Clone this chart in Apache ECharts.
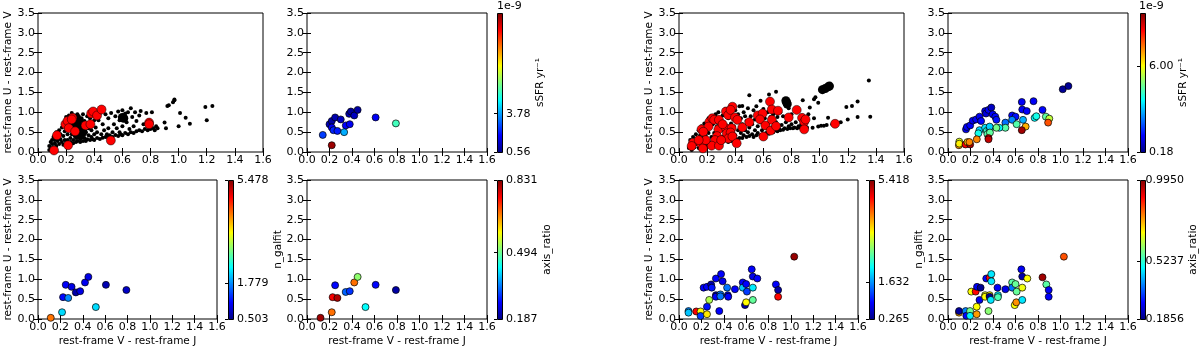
<!DOCTYPE html>
<html>
<head>
<meta charset="utf-8">
<script src="https://cdn.jsdelivr.net/npm/echarts@6.0.0/dist/echarts.min.js"></script>
<style>
  html, body { margin: 0; background: #fff; }
  #chart { width: 1200px; height: 352px; }
</style>
</head>
<body>
<div id="chart"></div>
<script>
/* ---------- data ---------- */
// left sample: all galaxies (small black), bigger black, selected (red)
const BG_LEFT = [
  [0.08,0.05],[0.08,0.15],[0.09,0.25],[0.09,0.1],[0.1,0.2],[0.1,0.3],[0.11,0.12],[0.11,0.38],[0.12,0.22],[0.12,0.3],
  [0.13,0.15],[0.13,0.5],[0.14,0.28],[0.14,0.38],[0.15,0.2],[0.15,0.55],[0.16,0.32],[0.16,0.45],[0.17,0.62],[0.17,0.25],
  [0.18,0.18],[0.18,0.4],[0.19,0.52],[0.19,0.3],[0.2,0.22],[0.2,0.62],[0.2,0.88],[0.21,0.45],[0.21,0.3],[0.22,0.92],[0.22,0.2],
  [0.23,0.35],[0.23,0.25],[0.24,0.45],[0.24,0.98],[0.25,0.22],[0.25,0.3],[0.26,0.4],[0.26,0.92],[0.27,0.25],[0.27,0.35],
  [0.28,0.28],[0.28,0.95],[0.29,0.4],[0.29,0.9],[0.3,0.25],[0.3,0.33],[0.31,0.45],[0.31,0.85],[0.32,0.28],[0.32,0.6],[0.32,0.95],
  [0.33,0.35],[0.33,0.78],[0.34,0.28],[0.34,0.5],[0.35,0.9],[0.35,0.32],[0.36,0.42],[0.36,0.6],[0.37,0.3],[0.37,0.85],
  [0.38,0.38],[0.38,0.55],[0.39,0.32],[0.4,0.45],[0.4,0.8],[0.4,0.3],
  [0.41,0.62],[0.42,0.35],[0.42,0.5],[0.43,0.8],[0.44,0.33],[0.44,0.98],[0.45,0.45],[0.46,0.7],[0.46,0.36],[0.47,0.55],
  [0.48,0.38],[0.48,0.95],[0.49,0.45],[0.5,0.6],[0.5,0.36],[0.5,0.85],
  [0.51,0.42],[0.52,0.98],[0.53,0.5],[0.53,0.38],[0.54,0.7],[0.55,0.43],[0.55,0.9],[0.56,0.6],[0.57,0.4],[0.57,1.02],
  [0.58,0.5],[0.58,0.8],[0.59,0.44],[0.6,0.65],[0.6,1.05],[0.6,0.42],
  [0.62,0.48],[0.62,0.97],[0.63,0.75],[0.64,0.45],[0.64,1.0],[0.65,0.58],[0.66,1.1],[0.66,0.5],[0.67,0.88],[0.68,0.48],
  [0.68,0.65],[0.69,1.0],[0.7,0.52],[0.7,0.78],
  [0.72,0.55],[0.72,0.92],[0.73,1.03],[0.74,0.52],[0.75,0.7],[0.76,0.58],[0.77,0.98],[0.78,0.55],[0.79,0.62],[0.8,0.58],
  [0.81,1.0],[0.82,0.6],[0.83,0.55],[0.84,0.65],[0.85,0.6],
  [0.9,0.74],[0.91,0.6],[0.92,1.16],[0.93,1.18],[0.96,1.25],[0.97,1.3],[0.97,1.32],[1.0,0.65],[1.01,0.98],[1.05,0.86],
  [1.08,0.71],[1.19,1.13],[1.2,0.8],[1.24,1.16]
];
const BIG_LEFT = [
  [0.25,0.8],[0.27,0.85],[0.29,0.78],[0.31,0.72],[0.28,0.65],[0.3,0.58],[0.32,0.5],[0.28,0.5],[0.3,0.42],[0.26,0.7],
  [0.6,0.87],[0.61,0.85]
];
const RED_LEFT = [
  [0.114,0.04],[0.135,0.42],[0.214,0.17],[0.195,0.70],[0.21,0.78],[0.219,0.60],[0.245,0.86],[0.24,0.82],[0.264,0.52],
  [0.338,0.67],[0.373,0.70],[0.378,0.97],[0.392,1.02],[0.42,0.92],[0.452,1.07],[0.518,0.29],[0.79,0.74],[0.79,0.70]
];
// [V-J, U-V, colour value]
const SSFR_LEFT = [
  [0.14,0.43,2.7],[0.20,0.70,1.2],[0.22,0.78,1.0],[0.22,0.62,2.0],[0.235,0.55,2.4],[0.25,0.87,1.1],[0.22,0.17,11.9],
  [0.27,0.53,2.3],[0.30,0.82,1.3],[0.33,0.50,4.0],[0.345,0.67,2.0],[0.38,0.70,1.9],[0.375,0.96,1.1],[0.39,1.02,0.9],
  [0.42,0.92,1.3],[0.45,1.06,1.0],[0.61,0.87,1.9],[0.79,0.72,5.7]
];
const NGALFIT_LEFT = [
  [0.114,0.03,4.3],[0.215,0.17,2.2],[0.224,0.55,1.15],[0.248,0.86,1.1],[0.27,0.53,1.8],[0.30,0.81,1.0],[0.338,0.67,0.7],
  [0.377,0.70,1.0],[0.42,0.92,1.05],[0.45,1.06,1.0],[0.517,0.30,2.2],[0.607,0.86,0.75],[0.79,0.73,0.85]
];
const AXRATIO_LEFT = [
  [0.12,0.03,0.81],[0.22,0.17,0.68],[0.228,0.55,0.755],[0.27,0.53,0.80],[0.25,0.85,0.27],[0.344,0.68,0.33],[0.38,0.70,0.30],
  [0.42,0.92,0.68],[0.45,1.06,0.52],[0.52,0.30,0.43],[0.61,0.86,0.27],[0.79,0.73,0.21]
];

// right sample
const BG_RIGHT = [
  [0.07,0.1],[0.08,0.2],[0.08,0.3],[0.09,0.05],[0.1,0.38],[0.11,0.12],[0.11,0.28],[0.12,0.45],[0.13,0.2],[0.13,0.35],
  [0.14,0.1],[0.14,0.55],[0.15,0.3],[0.15,0.42],
  [0.16,0.15],[0.16,0.65],[0.17,0.35],[0.17,0.5],[0.18,0.22],[0.18,0.72],[0.19,0.4],[0.19,0.58],[0.2,0.15],[0.2,0.3],
  [0.21,0.48],[0.21,0.85],[0.22,0.22],[0.22,0.62],[0.23,0.38],[0.23,0.9],[0.24,0.25],[0.24,0.7],[0.25,0.2],[0.25,0.48],
  [0.26,0.35],[0.26,0.95],[0.27,0.25],[0.27,0.65],[0.28,0.45],[0.28,1.0],[0.29,0.3],[0.29,0.7],[0.3,0.22],[0.3,0.55],
  [0.31,0.38],[0.31,0.92],[0.32,0.28],[0.32,0.75],[0.33,0.45],[0.33,1.08],[0.34,0.3],[0.34,0.65],[0.35,0.25],[0.35,0.85],
  [0.36,0.4],[0.36,1.0],[0.37,0.28],[0.37,0.72],[0.38,0.5],[0.38,0.92],[0.39,0.3],[0.39,0.65],[0.4,0.42],[0.4,1.05],
  [0.41,0.32],[0.41,0.75],[0.42,0.55],[0.42,0.95],[0.43,0.35],[0.43,1.15],[0.44,0.48],[0.44,0.85],[0.45,0.35],[0.45,0.7],
  [0.46,0.42],[0.46,1.0],[0.47,0.55],[0.47,0.9],[0.48,0.38],[0.48,0.78],[0.49,0.5],[0.49,1.1],[0.5,0.4],[0.5,0.62],
  [0.5,1.43],[0.51,0.9],[0.52,0.45],[0.52,0.7],[0.53,0.38],[0.53,1.05],[0.54,0.55],[0.54,0.82],[0.55,0.42],[0.55,1.15],
  [0.56,0.65],[0.56,0.48],[0.57,0.95],[0.58,0.42],[0.58,1.29],[0.58,0.75],[0.59,0.55],[0.6,0.45],[0.6,1.08],[0.61,0.62],
  [0.61,0.85],[0.62,0.48],[0.63,0.7],[0.63,1.0],[0.64,0.46],[0.64,0.58],[0.65,0.88],[0.65,0.5],
  [0.66,0.62],[0.67,0.5],[0.67,0.95],[0.68,0.55],[0.69,0.75],[0.69,1.52],[0.7,0.52],[0.7,0.88],[0.71,0.6],[0.72,0.55],
  [0.72,1.0],[0.73,0.68],[0.74,0.56],[0.74,0.9],[0.75,0.6],[0.76,0.75],[0.77,0.58],[0.78,1.1],[0.78,0.65],[0.79,0.6],
  [0.8,0.7],[0.8,0.95],
  [0.81,0.6],[0.82,0.62],[0.83,0.75],[0.84,0.6],[0.85,0.65],[0.86,0.62],[0.87,0.7],[0.88,1.3],[0.88,0.63],[0.9,0.65],
  [0.91,0.62],[0.92,0.95],[0.93,1.12],[0.95,0.61],[0.96,1.33],[0.96,0.85],[0.97,1.38],
  [0.99,1.24],[0.99,0.64],[1.01,0.66],[1.03,0.66],[1.05,0.68],[1.06,0.86],[1.09,0.7],[1.15,0.75],[1.2,0.82],[1.19,1.13],
  [1.23,1.16],[1.27,1.27],[1.27,0.88],[1.35,1.8],[1.36,0.89],[0.45,1.16],[0.64,1.45]
];
const BIG_RIGHT = [
  [0.76,1.29],[0.765,1.25],[0.77,1.21],[1.02,1.57],[1.04,1.6],[1.06,1.64],[1.07,1.66]
];
const RED_RIGHT = [
  [0.10,0.235],[0.09,0.15],[0.16,0.57],[0.154,0.22],[0.17,0.09],[0.216,0.76],[0.237,0.85],[0.25,0.81],[0.284,0.81],
  [0.28,0.57],[0.27,0.40],[0.256,0.30],[0.232,0.16],[0.284,0.16],[0.334,1.02],[0.35,0.93],[0.38,1.14],[0.367,1.06],
  [0.398,0.87],[0.415,0.81],[0.334,0.60],[0.374,0.60],[0.34,0.47],[0.367,0.49],[0.35,0.34],[0.38,0.39],[0.41,0.22],
  [0.45,0.62],[0.50,0.75],[0.56,0.92],[0.595,0.97],[0.576,0.82],[0.60,0.39],[0.614,0.67],[0.647,1.27],[0.66,1.07],
  [0.66,0.81],[0.704,1.04],[0.652,0.54],[0.69,0.65],[0.78,0.87],[0.837,1.06],[0.875,0.86],[0.89,0.76],[0.89,0.57],
  [0.90,0.82],[1.11,0.71],[0.21,0.64],[0.173,0.51],[0.19,0.3],[0.31,0.7],[0.3,0.3],[0.14,0.3]
];
const SSFR_RIGHT = [
  [1.02,1.58,0.4],[1.07,1.66,0.4],[0.76,1.28,1.3],[0.656,1.26,1.3],[0.66,1.07,1.3],[0.70,1.03,1.3],[0.84,1.06,1.4],
  [0.57,0.92,1.4],[0.60,0.89,1.5],[0.57,0.81,2.6],[0.667,0.81,3.0],[0.77,0.86,3.7],[0.785,0.90,3.9],[0.87,0.89,4.6],
  [0.90,0.84,5.5],[0.89,0.74,7.7],[0.69,0.64,6.8],[0.61,0.70,4.5],[0.656,0.55,9.3],[0.51,0.74,2.4],[0.51,0.61,4.5],
  [0.456,0.61,3.7],[0.43,0.61,4.8],[0.16,0.57,1.2],[0.168,0.63,1.3],[0.197,0.67,1.3],[0.22,0.79,1.2],[0.25,0.82,1.3],
  [0.28,0.89,1.2],[0.294,0.78,1.4],[0.33,1.03,1.2],[0.338,0.97,1.0],[0.36,1.06,1.3],[0.385,1.12,0.8],[0.397,0.95,1.3],
  [0.42,0.89,1.4],[0.43,0.81,1.5],[0.28,0.55,3.3],[0.27,0.47,3.9],[0.33,0.61,3.5],[0.344,0.53,4.2],[0.37,0.57,3.6],
  [0.37,0.64,3.3],[0.35,0.45,4.5],[0.373,0.49,4.6],[0.36,0.35,8.5],[0.36,0.32,9.0],[0.256,0.32,7.2],[0.10,0.26,5.8],
  [0.097,0.17,7.1],[0.1,0.21,6.2],[0.156,0.19,8.5],[0.173,0.25,6.6],[0.197,0.19,9.2],[0.19,0.25,7.2]
];
const NGALFIT_RIGHT = [
  [0.085,0.20,1.6],[0.085,0.16,1.9],[0.154,0.19,4.8],[0.193,0.19,3.5],[0.193,0.076,1.2],[0.25,0.31,1.0],[0.25,0.12,3.6],
  [0.27,0.48,3.1],[0.36,0.20,0.9],[0.22,0.79,0.9],[0.25,0.81,0.9],[0.287,0.87,0.5],[0.293,0.79,1.0],[0.33,1.02,0.9],
  [0.376,1.13,0.9],[0.39,0.95,0.8],[0.33,0.60,0.4],[0.33,0.56,0.9],[0.37,0.62,1.5],[0.37,0.57,1.5],[0.436,0.60,0.8],
  [0.44,0.56,0.9],[0.43,0.79,1.5],[0.50,0.75,0.9],[0.57,0.92,0.9],[0.57,0.79,1.9],[0.60,0.88,0.9],[0.607,0.69,1.2],
  [0.59,0.35,0.45],[0.60,0.42,3.5],[0.65,1.25,0.9],[0.66,1.07,0.8],[0.70,1.02,0.9],[0.66,0.79,2.1],[0.66,0.48,2.7],
  [0.866,0.87,0.9],[0.886,0.73,0.45],[0.886,0.56,4.75],[1.03,1.57,5.3]
];
const AXRATIO_RIGHT = [
  [0.098,0.16,0.76],[0.098,0.20,0.21],[0.157,0.20,0.39],[0.163,0.08,0.29],[0.196,0.20,0.58],[0.196,0.08,0.48],
  [0.255,0.31,0.69],[0.255,0.12,0.77],[0.207,0.69,0.69],[0.246,0.69,0.89],[0.258,0.81,0.28],[0.29,0.79,0.2],
  [0.28,0.48,0.27],[0.34,1.02,0.29],[0.37,1.04,0.89],[0.385,1.13,0.47],[0.385,0.95,0.47],[0.33,0.60,0.67],
  [0.33,0.56,0.69],[0.37,0.60,0.69],[0.37,0.56,0.2],[0.38,0.48,0.47],[0.36,0.20,0.6],[0.44,0.79,0.28],
  [0.444,0.60,0.48],[0.444,0.55,0.55],[0.51,0.75,0.27],[0.57,0.92,0.56],[0.57,0.79,0.38],[0.60,0.88,0.57],
  [0.61,0.69,0.57],[0.593,0.35,0.69],[0.607,0.42,0.78],[0.652,1.25,0.28],[0.66,1.07,0.22],[0.705,1.02,0.69],
  [0.66,0.79,0.68],[0.66,0.48,0.47],[0.84,1.05,0.97],[0.874,0.87,0.56],[0.895,0.73,0.28],[0.895,0.56,0.28],
  [1.03,1.57,0.83]
];

// colour-bar ranges and labelled ticks
const SSFR_LEFT_RANGE = [0.56, 12.23];
const SSFR_LEFT_TICKS = [0.56, 3.78];
const SSFR_LEFT_LABELS = ['0.56', '3.78'];
const NGALFIT_LEFT_RANGE = [0.503, 5.478];
const NGALFIT_LEFT_TICKS = [0.503, 1.779, 5.478];
const NGALFIT_LEFT_LABELS = ['0.503', '1.779', '5.478'];
const AXRATIO_LEFT_RANGE = [0.187, 0.831];
const AXRATIO_LEFT_TICKS = [0.187, 0.494, 0.831];
const AXRATIO_LEFT_LABELS = ['0.187', '0.494', '0.831'];
const SSFR_RIGHT_RANGE = [0.18, 9.62];
const SSFR_RIGHT_TICKS = [0.18, 6.00];
const SSFR_RIGHT_LABELS = ['0.18', '6.00'];
const NGALFIT_RIGHT_RANGE = [0.265, 5.418];
const NGALFIT_RIGHT_TICKS = [0.265, 1.632, 5.418];
const NGALFIT_RIGHT_LABELS = ['0.265', '1.632', '5.418'];
const AXRATIO_RIGHT_RANGE = [0.1856, 0.995];
const AXRATIO_RIGHT_TICKS = [0.1856, 0.5237, 0.995];
const AXRATIO_RIGHT_LABELS = ['0.1856', '0.5237', '0.9950'];

const X_NAME = 'rest-frame V - rest-frame J';
const Y_NAME = 'rest-frame U - rest-frame V';

/* ---------- styling / layout ---------- */
const FONT = 'DejaVu Sans';
const JET = ['#00007f', '#0000ff', '#007fff', '#00ffff', '#7fff7f', '#ffff00', '#ff7f00', '#ff0000', '#7f0000'];
const PH = 139; // plot height
const CBW = 5;  // colour-bar width

const grid = [], xAxis = [], yAxis = [], series = [], visualMap = [], graphic = [];
const tickStyle = { show: true, inside: true, length: 4, lineStyle: { color: '#000', width: 1 } };
const nameStyle = { color: '#000', fontFamily: FONT, fontSize: 10.5 };

function addPlot (box, withX, withY) {
  const g = grid.length;
  grid.push({ left: box.left, top: box.top, width: box.width, height: PH, show: true,
    borderColor: '#000', borderWidth: 1, backgroundColor: '#fff' });
  const xi = xAxis.length, yi = yAxis.length;
  const lab = { color: '#000', fontFamily: FONT, fontSize: 11, margin: 3, formatter: v => v.toFixed(1) };
  xAxis.push({ gridIndex: g, type: 'value', min: 0, max: 1.6, interval: 0.2, position: 'bottom',
    axisLine: { show: false }, axisTick: tickStyle, splitLine: { show: false }, axisLabel: lab,
    name: withX ? X_NAME : '', nameLocation: 'middle', nameGap: 17, nameTextStyle: nameStyle });
  xAxis.push({ gridIndex: g, type: 'value', min: 0, max: 1.6, interval: 0.2, position: 'top',
    axisLine: { show: false }, axisTick: tickStyle, splitLine: { show: false }, axisLabel: { show: false } });
  yAxis.push({ gridIndex: g, type: 'value', min: 0, max: 3.5, interval: 0.5, position: 'left',
    axisLine: { show: false }, axisTick: tickStyle, splitLine: { show: false }, axisLabel: lab,
    name: withY ? Y_NAME : '', nameLocation: 'middle', nameGap: 23, nameTextStyle: nameStyle });
  yAxis.push({ gridIndex: g, type: 'value', min: 0, max: 3.5, interval: 0.5, position: 'right',
    axisLine: { show: false }, axisTick: tickStyle, splitLine: { show: false }, axisLabel: { show: false } });
  return { xi, yi };
}

function addScatter (ax, data, size, color, border) {
  series.push({ type: 'scatter', xAxisIndex: ax.xi, yAxisIndex: ax.yi, data, symbolSize: size,
    itemStyle: { color, borderColor: '#000', borderWidth: border, opacity: 1 }, animation: false, silent: true });
}

function addColoured (ax, data, range) {
  const idx = series.length;
  series.push({ type: 'scatter', xAxisIndex: ax.xi, yAxisIndex: ax.yi, data, symbolSize: 7,
    itemStyle: { borderColor: '#000', borderWidth: 0.7, opacity: 1 }, animation: false, silent: true });
  visualMap.push({ type: 'continuous', show: false, seriesIndex: idx, dimension: 2,
    min: range[0], max: range[1], inRange: { color: JET } });
}

// colour bar: gradient rectangle + a value axis carrying the labelled ticks
function addColorbar (box, range, ticks, labels, name, gap) {
  const g = grid.length;
  grid.push({ left: box.left, top: box.top, width: CBW, height: PH, show: false });
  xAxis.push({ gridIndex: g, type: 'value', min: 0, max: 1, show: false });
  yAxis.push({ gridIndex: g, type: 'value', min: range[0], max: range[1], position: 'right',
    axisLine: { show: false }, splitLine: { show: false },
    axisTick: { show: true, inside: true, length: 3, customValues: ticks, lineStyle: { color: '#000' } },
    axisLabel: { customValues: ticks, color: '#000', fontFamily: FONT, fontSize: 11, margin: 4,
      formatter: v => {
        let best = 0;
        ticks.forEach((t, i) => { if (Math.abs(t - v) < Math.abs(ticks[best] - v)) best = i; });
        return labels[best];
      } },
    name, nameLocation: 'middle', nameRotate: 90, nameGap: gap, nameTextStyle: nameStyle });
  graphic.push({ type: 'rect', left: box.left, top: box.top, z: -1, silent: true,
    shape: { width: CBW, height: PH },
    style: { stroke: '#000', lineWidth: 1,
      fill: new echarts.graphic.LinearGradient(0, 1, 0, 0, JET.map((c, i) => ({ offset: i / 8, color: c }))) } });
}

/* ---------- panels ---------- */
const p1 = addPlot({ left: 38, top: 13, width: 225 }, false, true);
addScatter(p1, BG_LEFT, 4, '#000', 0);
addScatter(p1, BIG_LEFT, 9, '#000', 0);
addScatter(p1, RED_LEFT, 9, '#ff0000', 0.5);

const p2 = addPlot({ left: 307, top: 13, width: 180 }, false, false);
addColoured(p2, SSFR_LEFT, SSFR_LEFT_RANGE);
addColorbar({ left: 497, top: 13 }, SSFR_LEFT_RANGE, SSFR_LEFT_TICKS, SSFR_LEFT_LABELS, 'sSFR yr⁻¹', 30);

const p3 = addPlot({ left: 38, top: 180, width: 179 }, true, true);
addColoured(p3, NGALFIT_LEFT, NGALFIT_LEFT_RANGE);
addColorbar({ left: 228, top: 180 }, NGALFIT_LEFT_RANGE, NGALFIT_LEFT_TICKS, NGALFIT_LEFT_LABELS, 'n_galfit', 39);

const p4 = addPlot({ left: 307, top: 180, width: 180 }, true, false);
addColoured(p4, AXRATIO_LEFT, AXRATIO_LEFT_RANGE);
addColorbar({ left: 497, top: 180 }, AXRATIO_LEFT_RANGE, AXRATIO_LEFT_TICKS, AXRATIO_LEFT_LABELS, 'axis_ratio', 38);

const p5 = addPlot({ left: 679, top: 13, width: 225 }, false, true);
addScatter(p5, BG_RIGHT, 4, '#000', 0);
addScatter(p5, BIG_RIGHT, 9, '#000', 0);
addScatter(p5, RED_RIGHT, 9, '#ff0000', 0.5);

const p6 = addPlot({ left: 948, top: 13, width: 180 }, false, false);
addColoured(p6, SSFR_RIGHT, SSFR_RIGHT_RANGE);
addColorbar({ left: 1140, top: 13 }, SSFR_RIGHT_RANGE, SSFR_RIGHT_TICKS, SSFR_RIGHT_LABELS, 'sSFR yr⁻¹', 32);

const p7 = addPlot({ left: 679, top: 180, width: 179 }, true, true);
addColoured(p7, NGALFIT_RIGHT, NGALFIT_RIGHT_RANGE);
addColorbar({ left: 869, top: 180 }, NGALFIT_RIGHT_RANGE, NGALFIT_RIGHT_TICKS, NGALFIT_RIGHT_LABELS, 'n_galfit', 38);

const p8 = addPlot({ left: 948, top: 180, width: 180 }, true, false);
addColoured(p8, AXRATIO_RIGHT, AXRATIO_RIGHT_RANGE);
addColorbar({ left: 1140, top: 180 }, AXRATIO_RIGHT_RANGE, AXRATIO_RIGHT_TICKS, AXRATIO_RIGHT_LABELS, 'axis_ratio', 43);

// offset text of the sSFR colour bars
graphic.push({ type: 'text', left: 497, top: 1, style: { text: '1e-9', font: '11px "DejaVu Sans"', fill: '#000' } });
graphic.push({ type: 'text', left: 1139, top: 1, style: { text: '1e-9', font: '11px "DejaVu Sans"', fill: '#000' } });

const chart = echarts.init(document.getElementById('chart'));
chart.setOption({ animation: false, backgroundColor: '#fff', grid, xAxis, yAxis, series, visualMap, graphic });
</script>
</body>
</html>
